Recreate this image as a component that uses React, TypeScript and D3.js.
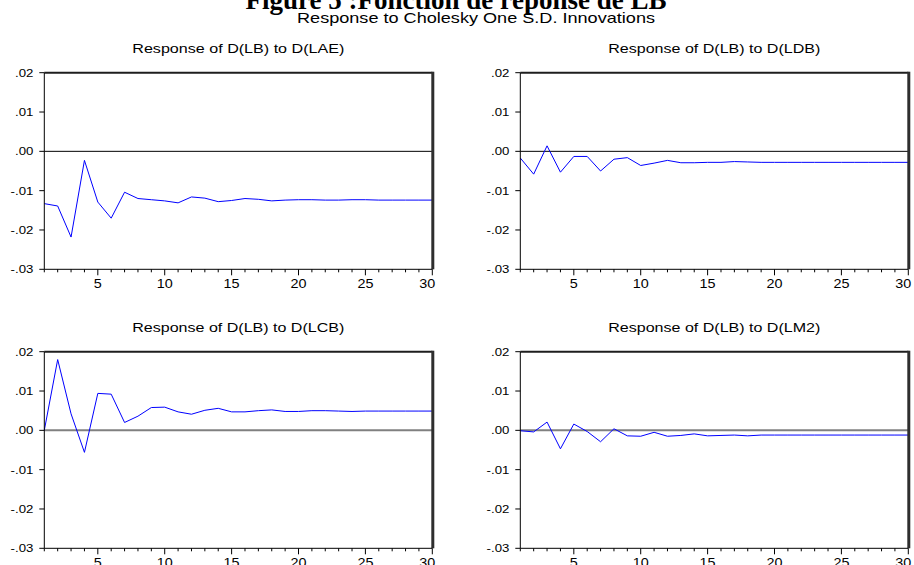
import React from 'react';
import * as d3 from 'd3';

// impulse responses
const periods = [1, 2, 3, 4, 5, 6, 7, 8, 9, 10, 11, 12, 13, 14, 15, 16, 17, 18, 19, 20, 21, 22, 23, 24, 25, 26, 27, 28, 29, 30];

const respLAE = [-0.0133, -0.0139, -0.0218, -0.0023, -0.0129, -0.0170, -0.0104, -0.0120, -0.0123, -0.0126,
  -0.0131, -0.0116, -0.0119, -0.0128, -0.0125, -0.0120, -0.0122, -0.0126, -0.0124, -0.0123,
  -0.0123, -0.0124, -0.0124, -0.0123, -0.0123, -0.0124, -0.0124, -0.0124, -0.0124, -0.0124];

const respLDB = [-0.0017, -0.0058, 0.0014, -0.0053, -0.0013, -0.0013, -0.0050, -0.0020, -0.0016, -0.0036,
  -0.0030, -0.0023, -0.0029, -0.0029, -0.0028, -0.0028, -0.0026, -0.0027, -0.0028, -0.0028,
  -0.0028, -0.0028, -0.0028, -0.0028, -0.0028, -0.0028, -0.0028, -0.0028, -0.0028, -0.0028];

const respLCB = [0.0000, 0.0180, 0.0042, -0.0056, 0.0094, 0.0092, 0.0020, 0.0036, 0.0058, 0.0059,
  0.0047, 0.0041, 0.0051, 0.0056, 0.0047, 0.0047, 0.0050, 0.0052, 0.0048, 0.0048,
  0.0050, 0.0050, 0.0049, 0.0048, 0.0049, 0.0049, 0.0049, 0.0049, 0.0049, 0.0049];

const respLM2 = [-0.0001, -0.0004, 0.0021, -0.0047, 0.0016, -0.0003, -0.0029, 0.0004, -0.0014, -0.0015,
  -0.0005, -0.0015, -0.0013, -0.0009, -0.0014, -0.0013, -0.0012, -0.0014, -0.0012, -0.0012,
  -0.0012, -0.0012, -0.0012, -0.0012, -0.0012, -0.0012, -0.0012, -0.0012, -0.0012, -0.0012];

const yTicks = [0.02, 0.01, 0, -0.01, -0.02, -0.03];
const yTickLabels = ['.02', '.01', '.00', '-.01', '-.02', '-.03'];
const xMajorTicks = [5, 10, 15, 20, 25, 30];

const panelTitles = [
  'Response of D(LB) to D(LAE)',
  'Response of D(LB) to D(LDB)',
  'Response of D(LB) to D(LCB)',
  'Response of D(LB) to D(LM2)',
];
const panelData = [respLAE, respLDB, respLCB, respLM2];

const mainTitle = 'Figure 5 :Fonction de réponse de LB';
const subTitle = 'Response to Cholesky One S.D. Innovations';

const W = 388;
const H = 196.6;
const lefts = [44.3, 520.3];
const tops = [72.7, 351.7];
const sans = '"Liberation Sans", Arial, sans-serif';

const Stretch = ({ x, y, sx = 1.2, children, ...rest }: any) => (
  <g transform={`translate(${x},${y}) scale(${sx},1)`}>
    <text {...rest}>{children}</text>
  </g>
);

const Panel = ({ x0, y0, title, values, zeroColor, zeroWidth }: any) => {
  const xScale = d3.scaleLinear().domain([1, 30]).range([x0, x0 + W]);
  const yScale = d3.scaleLinear().domain([-0.03, 0.02]).range([y0 + H, y0]);
  const line = d3.line<number>()
    .x((_, i) => xScale(periods[i]))
    .y(d => yScale(d));
  const bottom = y0 + H;

  return (
    <g>
      <text x={x0 + W / 2} y={y0 - 20} textAnchor="middle" fontFamily={sans} fontSize={13.5}
        textLength={212} lengthAdjust="spacingAndGlyphs">{title}</text>

      {/* zero line */}
      <line x1={x0} x2={x0 + W} y1={yScale(0)} y2={yScale(0)} stroke={zeroColor} strokeWidth={zeroWidth} />

      <path d={line(values) || ''} fill="none" stroke="#0000ff" strokeWidth={1} />

      {/* frame */}
      <line x1={x0} x2={x0 + W} y1={y0} y2={y0} stroke="#1e1e1e" strokeWidth={2} />
      <line x1={x0 + W + 0.5} x2={x0 + W + 0.5} y1={y0 - 1} y2={bottom} stroke="#2e2e2e" strokeWidth={3} />
      <line x1={x0} x2={x0} y1={y0} y2={bottom} stroke="#000" strokeWidth={1} />
      <line x1={x0} x2={x0 + W} y1={bottom} y2={bottom} stroke="#000" strokeWidth={1} />

      {yTicks.map((t, i) => (
        <g key={'y' + i}>
          <line x1={x0 - 5} x2={x0} y1={yScale(t)} y2={yScale(t)} stroke="#000" />
          <Stretch x={x0 - 11} y={yScale(t)} textAnchor="end" dy="0.35em" fontFamily={sans} fontSize={11}>
            {yTickLabels[i]}
          </Stretch>
        </g>
      ))}

      {periods.map(p => {
        const major = xMajorTicks.includes(p);
        return (
          <line key={'xt' + p} x1={xScale(p)} x2={xScale(p)} y1={bottom} y2={bottom + (major ? 6 : 3)} stroke="#000" />
        );
      })}
      {xMajorTicks.map((t, i) => {
        const last = i === xMajorTicks.length - 1;
        return (
          <Stretch key={'xl' + t} x={last ? xScale(t) + 3 : xScale(t)} y={bottom + 18.5} sx={1.15}
            textAnchor={last ? 'end' : 'middle'} fontFamily={sans} fontSize={12.5}>
            {t}
          </Stretch>
        );
      })}
    </g>
  );
};

export default function App() {
  return (
    <div>
      <style>{'body{margin:0;background:#fff}'}</style>
      <svg width={914} height={565} style={{ display: 'block', background: '#fff' }}>
        <text x={456} y={9} textAnchor="middle" fontFamily='"Liberation Serif", "Times New Roman", serif'
          fontWeight="bold" fontSize={27}>{mainTitle}</text>
        <text x={476} y={23} textAnchor="middle" fontFamily={sans} fontSize={15}
          textLength={358} lengthAdjust="spacingAndGlyphs">{subTitle}</text>

        {panelData.map((vals, i) => (
          <Panel
            key={i}
            x0={lefts[i % 2]}
            y0={tops[Math.floor(i / 2)]}
            title={panelTitles[i]}
            values={vals}
            zeroColor={i < 2 ? '#000' : '#808080'}
            zeroWidth={i < 2 ? 1 : 2}
          />
        ))}
      </svg>
    </div>
  );
}
